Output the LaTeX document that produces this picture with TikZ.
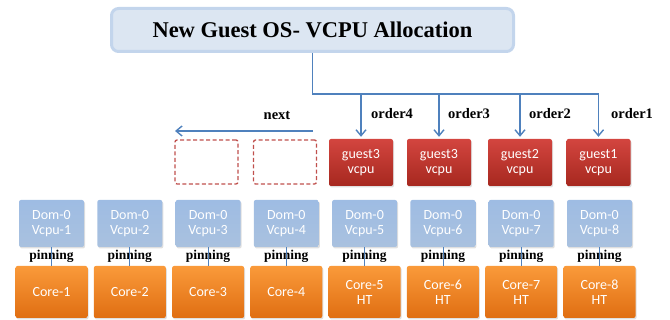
\documentclass[tikz,border=0pt]{standalone}
\usepackage{fontspec}
\setmainfont{Liberation Serif}
\newfontfamily\boxfont{Carlito}
\usetikzlibrary{arrows.meta,shadows,calc}
\definecolor{conblue}{HTML}{4F81BD}
\definecolor{titlefill}{HTML}{DCE6F2}
\definecolor{titledraw}{HTML}{C3D5EC}
\definecolor{redtop}{HTML}{D3453F}
\definecolor{redbot}{HTML}{A6281F}
\definecolor{domtop}{HTML}{9EBCE3}
\definecolor{dombot}{HTML}{A9C1DF}
\definecolor{ortop}{HTML}{FA9A3A}
\definecolor{orbot}{HTML}{E06E12}
\definecolor{dashred}{HTML}{C0504D}
\tikzset{
  boxshadow/.style={drop shadow={opacity=0.25,shadow xshift=1pt,shadow yshift=-1.5pt}},
  boxtext/.style={font=\boxfont\fontsize{14}{15}\selectfont,text=white,align=center,inner sep=0pt},
  guestbox/.style={boxtext,rounded corners=2pt,minimum width=64pt,minimum height=47pt,top color=redtop,bottom color=redbot,draw=none,boxshadow},
  dombox/.style={boxtext,rounded corners=2pt,minimum width=65pt,minimum height=47pt,top color=domtop,bottom color=dombot,draw=none,boxshadow},
  corebox/.style={boxtext,rounded corners=2pt,minimum width=72pt,minimum height=52pt,top color=ortop,bottom color=orbot,draw=none,boxshadow},
  emptybox/.style={draw=dashred,dashed,dash pattern=on 4pt off 2.5pt,line width=1.3pt,rounded corners=2pt,minimum width=63pt,minimum height=44pt,fill=white},
  lbl/.style={font=\bfseries\fontsize{14.5}{16}\selectfont,inner sep=0pt},
  pinlbl/.style={font=\bfseries\fontsize{13.5}{15}\selectfont,inner sep=0pt},
  con/.style={draw=conblue,line width=1.4pt},
  arr/.style={con,-{Straight Barb[length=6pt,width=10pt,line width=1.4pt]}},
  pin/.style={draw=conblue,line width=0.8pt}
}
\begin{document}
\begin{tikzpicture}[x=1pt,y=-1pt]
\useasboundingbox (0,0) rectangle (670,320);
% title
\node[draw=titledraw,line width=3pt,fill=titlefill,rounded corners=7pt,minimum width=402pt,minimum height=43pt,inner sep=0pt,
  font=\bfseries\fontsize{22.5}{24}\selectfont] (title) at (312.5,30) {New Guest OS- VCPU Allocation};
% guest boxes
\node[guestbox] (g4) at (361,162.5) {guest3\\vcpu};
\node[guestbox] (g3) at (439,162.5) {guest3\\vcpu};
\node[guestbox] (g2) at (520,162.5) {guest2\\vcpu};
\node[guestbox] (g1) at (598.5,162.5) {guest1\\vcpu};
% empty boxes
\node[emptybox] (e2) at (206.5,162) {};
\node[emptybox] (e1) at (285,162) {};
% connectors from title
\coordinate (hend) at (598.5,94);
\draw[con] (title.south) |- (hend);
\foreach \g in {g4,g3,g2,g1}{
  \draw[arr] (\g.north |- hend) -- ([yshift=2pt]\g.north);
}
% order labels
\node[lbl] (o4) at (392,114) {order4};
\node[lbl] (o3) at (469,114) {order3};
\node[lbl] (o2) at (550,114) {order2};
\node[lbl] (o1) at (632,114) {order1};
% next
\node[lbl] (nxt) at (277,115) {next};
\coordinate (nstart) at (313,131);
\coordinate (nend) at (175,131);
\draw[arr] (nstart) -- (nend);
% dom and core boxes
\foreach \i/\x in {1/51.5,2/129.8,3/208.1,4/286.3}{
  \node[dombox] (d\i) at (\x,223.5) {Dom-0\\Vcpu-\i};
  \node[corebox] (c\i) at (\x,292) {Core-\i};
}
\foreach \i/\x in {5/364.6,6/442.9,7/521.2,8/599.5}{
  \node[dombox] (d\i) at (\x,223.5) {Dom-0\\Vcpu-\i};
  \node[corebox] (c\i) at (\x,292) {Core-\i\\HT};
}
\foreach \i in {1,...,8}{
  \node[pinlbl] (p\i) at ($(d\i.south)!0.5!(c\i.north)$) {pinning};
  \draw[pin] (d\i.south) -- (c\i.north);
}
\end{tikzpicture}
\end{document}
